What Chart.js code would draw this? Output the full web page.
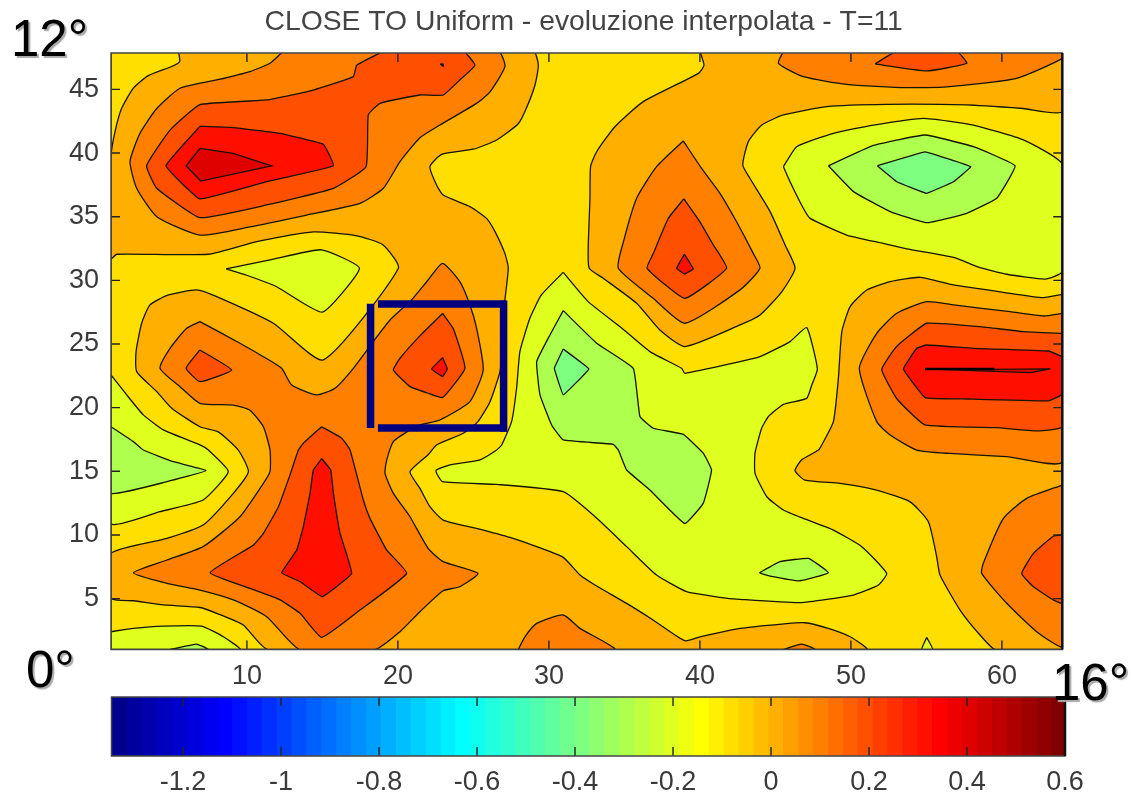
<!DOCTYPE html>
<html>
<head>
<meta charset="utf-8">
<title>CLOSE TO Uniform</title>
<script src="https://cdn.jsdelivr.net/npm/chart.js@4"></script>
<style>
  html, body { margin: 0; padding: 0; background: #fff; overflow: hidden; }
  #page { position: relative; width: 1131px; height: 795px; }
  canvas { position: absolute; left: 0; }
  .corner {
    position: absolute;
    font: 51px/1 "Liberation Sans", sans-serif;
    color: #000;
    text-shadow: 2px 2px 1px #aaa;
    white-space: nowrap;
  }
</style>
</head>
<body>
<div id="page">
  <canvas id="contourChart" width="1131" height="695" style="top:0"></canvas>
  <canvas id="colorbarChart" width="1131" height="110" style="top:685px"></canvas>
  <div class="corner" style="left:11px;top:13px">12°</div>
  <div class="corner" style="left:26px;top:644px">0°</div>
  <div class="corner" style="left:1052px;top:657px">16°</div>
</div>
<script>
const titleText = "CLOSE TO Uniform - evoluzione interpolata - T=11";
const xTicks = [10, 20, 30, 40, 50, 60];
const yTicks = [5, 10, 15, 20, 25, 30, 35, 40, 45];
const barTicks = [-1.2, -1, -0.8, -0.6, -0.4, -0.2, 0, 0.2, 0.4, 0.6];

// colour of each contour band
const bandColors = {
  base: "#ffdf00", zero: "#ffaf00", p1: "#ff7f00", p2: "#ff4f00", p3: "#ff0f00", p4: "#df0000",
  m2: "#dfff1f", m3: "#afff4f", m4: "#7fff7f"
};

// contours, [x, y] in axis units
const bandBase = [[[1, 1], [64, 1], [64, 48], [1, 48]]];

const bandZero = [
  [[5.46,48],[5.55,47.2],[5.02,46.8],[3.47,46.08],[2.48,45.1],[1.7,43.5],[1.27,41.7],[1,39.7],[1,31.7],[1.38,32.05],[7.45,32.05],[10.65,33.04],[14.4,33.8],[17.27,33.5],[19,32.8],[20.03,30.95],[15.06,23.75],[11.75,26.63],[8,28.72],[6.67,29.25],[4.8,28.85],[3.58,28.07],[3.03,26.63],[2.66,24.4],[2.7,22.83],[4.03,21.26],[5.02,19.95],[6.89,18.5],[8.1,18.1],[9.43,16.67],[10.1,14.97],[9.1,13.27],[7.1,10.78],[4.7,9.73],[1,8.55],[1,5.02],[2.5,4.83],[4.47,4.5],[6.9,4.3],[8,3.84],[9.76,2.92],[11.4,1],[51.05,1],[49.95,2],[48.5,2.66],[46.96,3.1],[45.42,3],[42.66,2.66],[40,2],[39,1.69],[36.9,3.32],[35.15,4.62],[33.05,6.07],[32.06,6.85],[30.95,8.24],[29.19,9.08],[27.42,9.81],[25.2,10.52],[23,11.17],[22.12,12.22],[21.46,13.66],[20.8,14.97],[22,16.3],[22.56,17.07],[24.33,17.99],[25.3,18.9],[26.1,20.47],[26.76,22.83],[26.93,24.93],[27.09,28.46],[27.31,30.95],[27.09,32.1],[26.43,33.83],[25.87,34.87],[24.77,35.79],[23,36.7],[22.56,37.49],[22.12,38.93],[22.9,39.9],[25,40.3],[26.54,41.03],[27.97,42.3],[28.5,43.5],[29.08,45.35],[29.3,46.9],[28.97,48]],
  [[40,48],[40.27,46.9],[39.9,46.26],[36.25,44.04],[34.37,42.07],[33.16,40.1],[32.76,38.93],[32.72,36.45],[32.6,32.4],[32.67,30.95],[33.6,30.16],[35.81,28.2],[37.35,26.1],[39,24.8],[42.66,26.5],[43.98,27.28],[45.42,29.1],[46.3,30.95],[45.64,32.78],[44.65,35.4],[43.32,38],[42.84,39.06],[43.21,40.9],[44.1,42.2],[45.53,42.99],[48.4,43.65],[52.37,43.83],[57.67,43.78],[61.4,43.5],[64,43.25],[64,48]],
  [[64,28.9],[62.75,28.64],[60.1,29.06],[56.8,29.64],[54.58,30.24],[52.6,29.9],[51.05,29.24],[49.95,27.94],[49.4,25.97],[49.17,22.3],[48.84,18.9],[48.07,17.07],[47.85,16.67],[46.74,15.9],[46.3,15.05],[46.96,14.3],[49.28,14.05],[51.5,13.58],[53.92,12.6],[55.13,11.04],[55.68,8.3],[55.9,6.85],[57.23,4.1],[58.55,2.14],[59.55,1],[64,1]]
];

const bandP1 = [
  [[12.41,48],[11.53,47.05],[10.2,46.4],[8,45.74],[5.57,45.09],[4.03,43.5],[2.92,41.55],[2.26,39.33],[2.7,37.23],[4.03,35],[6.89,33.56],[10.2,34.2],[13.96,35.13],[17.49,36.05],[19.04,37.23],[20.14,39.33],[21.46,41.2],[22.78,42.2],[25.21,43.9],[26.1,44.8],[27.09,46.8],[26.65,48]],
  [[6.89,26.76],[6.01,26.23],[4.91,24.66],[4.25,23.09],[5.57,21.65],[6.89,20.34],[9.1,20.2],[10.2,19.8],[11.09,18.5],[11.53,16.67],[11.53,14.97],[11.09,14.05],[9.54,11.43],[7.1,9.08],[4.7,8.03],[2.48,7.03],[4.7,6.2],[6.89,5.67],[9.1,4.9],[11.31,3.58],[13.5,1],[18.5,1],[20.14,2.4],[21.46,3.97],[23,5.62],[24.1,5.93],[25.3,6.98],[23,7.9],[22,8.95],[20.8,11.43],[19.7,13.27],[19.15,14.84],[19.26,15.88],[19.7,17.33],[20.47,18],[21.46,18.64],[22.78,19.03],[24.77,20.47],[25.65,22.96],[25.21,26.24],[24.77,28.07],[24.1,29.9],[22.96,31.34],[22,30.03],[20.9,28.46],[19.48,26.89],[18.37,25.19],[17.05,23.09],[15.83,21.52],[14.62,21],[12.97,21.78],[12.3,23.09],[11.09,24],[9.54,25.06]],
  [[38.9,40.95],[37.13,38.93],[35.81,36.45],[34.93,33],[34.6,30.95],[36.91,28.59],[39,26.63],[42.66,29.25],[43.98,30.95],[43.54,32.1],[42.43,34.6],[41.33,36.84],[40.11,38.8]],
  [[64,27.4],[62.75,27.2],[60.54,27.54],[56.8,28.07],[55.02,28.33],[53.04,27.41],[51.71,25.84],[50.56,23.09],[51.71,18.9],[52.6,17.85],[54.36,16.67],[56.57,16.4],[60.32,16.15],[64,15.75]],
  [[64,13.92],[61.64,12.87],[60.1,11.3],[58.77,7.77],[58.66,6.98],[60.32,4.63],[62.3,2.4],[64,1.22]],
  [[45.53,48],[45.2,47.05],[46.85,46],[49.72,45.4],[53.7,45.14],[56.35,45.2],[60.98,45.87],[64,47.44],[64,48]],
  [[27.97,1],[28.41,2],[29.19,3.05],[30.95,3.71],[32.06,2.66],[34.37,1]],
  [[45.53,1],[46.74,1.43],[47.63,1]]
];

const bandP2 = [
  [[19.04,48],[17.27,46.9],[17.05,46],[14.4,44.95],[11.31,44.17],[6.89,43.8],[4.91,41.8],[3.36,39],[4.03,37.23],[6.89,34.93],[11.31,35.92],[15.73,37.23],[17.89,38.93],[18.04,43],[18.82,43.91],[21.46,44.56],[23,44.56],[24.1,45.74],[25.1,46.9],[24.33,48]],
  [[6.89,24.53],[5.97,23.09],[6.89,22.04],[8.99,22.96]],
  [[22.96,27.4],[21.5,25.7],[20.14,23.88],[19.7,22.96],[20.8,21.65],[22,21.13],[22.96,20.79],[24.44,23.09],[23.67,26.2]],
  [[14.95,18.5],[13.74,17.2],[13.41,16.67],[12.85,14.7],[12.08,12.2],[11.09,10.12],[10.43,9.2],[7.56,7.03],[10.2,5.8],[12.2,4.9],[13.52,3.84],[14.95,1.95],[17.49,4.1],[20.58,6.98],[19.26,8.81],[18.15,11.3],[17.71,12.74],[16.83,16.67],[16.28,17.6]],
  [[38.94,36.4],[37.9,34.86],[36.91,32.1],[36.5,30.95],[39,28.59],[41.77,30.95],[40.89,32.78],[40,34.6]],
  [[51.6,47],[53.04,48],[57,48],[57.67,47.05],[55.02,46.45]],
  [[64,25.84],[61.42,25.97],[58.55,26.36],[55.02,26.63],[53.92,25.7],[52.92,24.66],[52.04,23],[53.04,20.7],[54.91,18.64],[59.66,18.43],[62.31,18.17],[64,18.5]],
  [[64,10],[63.4,9.9],[62.09,8.55],[61.31,6.98],[62.09,5.93],[63.4,4.9],[64,4.63]]
];

const bandP3 = [
  [[6.89,42.1],[4.64,39],[6.89,36.4],[11.31,37.75],[15.73,39],[15.06,40.69],[12.19,41.55],[9.1,42]],
  [[22.96,23.93],[22.23,23.04],[22.96,22.44],[23.27,23.04]],
  [[38.97,32.05],[38.46,30.95],[38.97,30.5],[39.56,30.9]],
  [[14.95,16],[14.4,15.1],[14.18,13.27],[13.74,10.65],[13.3,8.81],[12.3,7.03],[13.52,6.33],[15,5.15],[16.94,6.98],[16.17,10.12],[15.73,13.27],[15.55,15.1]],
  [[64,24],[63.08,24.45],[58.11,24.66],[55.02,24.92],[54.36,24.66],[53.48,23.04],[54.91,20.79],[57.67,20.68],[63.08,20.53],[64,21.05]],
  [[22.8,47],[23,47],[23,46.8]]
];

const bandP4 = [
  [[6.89,40.37],[5.97,39],[6.94,37.8],[11.64,39],[9.1,39.98]],
  [[54.91,23.05],[59.6,23],[63.2,23.05],[61.9,22.75],[59.5,22.85]]
];

const bandM2 = [
  [[8.62,30.9],[11.53,31.6],[14.95,32.4],[17.45,30.95],[15,27.5],[11.97,29.5],[9.99,30.4]],
  [[1,22.57],[2.04,21],[3.14,19.43],[4.47,18.25],[6.89,17.07],[7.45,16.67],[8.77,14.97],[7.1,12.74],[4.25,11.83],[1,10.9]],
  [[1,2.4],[2.48,2.66],[4.47,2.84],[7,2.84],[8.44,2],[9.55,1],[1,1]],
  [[30.95,30.63],[29.5,28.85],[28.74,27.02],[28.08,24.4],[27.86,21.52],[27.53,18.9],[26.87,17.07],[26.54,16.67],[25.43,15.9],[23.45,15.5],[22.52,15.05],[22.96,14.18],[26.54,13.97],[30.95,13.4],[32.94,11.56],[35.15,9.08],[37.13,6.85],[39.12,5.54],[41.33,5.1],[42.66,4.94],[46.63,4.68],[50.17,5.28],[51.82,6.07],[52.37,6.98],[50.72,9.08],[48.84,10.38],[46.85,11.3],[45.53,11.96],[44.43,13],[43.65,14.84],[43.65,16.42],[44.09,18.38],[44.54,19.3],[45.53,20.26],[47.07,20.73],[47.41,21.78],[47.78,23.04],[47.07,26.29],[45.97,25.19],[43.98,24],[42.66,23.62],[39,22.7],[38.79,23.09],[36.69,24.4],[34.7,26.37],[32.6,28.33]],
  [[45.53,38.93],[46.41,40.5],[48.84,41.55],[51.49,42.2],[54.8,42.73],[58.11,42.2],[61.42,41.03],[64,39.12],[64,30.68],[62.86,30.1],[60.32,30.48],[58.55,31],[56.8,31.8],[53.7,32.47],[52.15,32.9],[49.72,33.56],[47.3,34.87],[46.85,35.66],[45.97,37.75]],
  [[55.02,1.95],[54.69,1],[55.42,1]]
];

const bandM3 = [
  [[48.51,39],[51.49,40.6],[54.91,41.42],[58.11,40.5],[60.87,39],[59.66,36.45],[57.67,35.27],[55.02,34.53],[52.6,35.4],[50.17,36.97]],
  [[1,18.5],[2.48,17.33],[3.14,16.67],[5.13,15.75],[7.29,15.05],[4.7,14.18],[1,13.27]],
  [[30.95,27.62],[30.07,25.71],[29.19,23.62],[29.41,21],[30.18,18.64],[30.95,17.46],[34.26,17.12],[34.6,16.67],[35.15,15.1],[36.69,13.53],[39,10.9],[40.22,12.48],[40.77,15.1],[40.22,16.42],[38.9,17.9],[36.91,18.38],[36.03,19.3],[35.59,23.09],[33.16,25.06]],
  [[43.94,7.03],[45.31,7.9],[47.19,8.16],[48.51,7.03],[46.63,6.4],[44.65,6.77]],
  [[4.91,1],[6.67,1.43],[7.45,1]]
];

const bandM4 = [
  [[51.75,39],[54.91,40.1],[57.94,38.93],[56.79,37.75],[55.02,36.84],[53.04,37.75]],
  [[30.95,24.6],[30.36,23.09],[30.95,21],[32.65,23.04]]
];

const peakRidge = [[54.91, 23.04], [59.5, 23.03]];

// the hand drawn navy box, four separate strokes
const boxLeft = [[18.19, 28.17], [18.19, 18.4]];
const boxTop = [[18.68, 28.14], [27.2, 28.14]];
const boxRight = [[27, 28.4], [27, 18.1]];
const boxBottom = [[18.68, 18.4], [27.2, 18.4]];

// colorbar
const barColors = [
  "#00008f","#00009f","#0000af","#0000bf","#0000cf","#0000df","#0000ef","#0000ff",
  "#000fff","#001fff","#002fff","#003fff","#004fff","#005fff","#006fff","#007fff",
  "#008fff","#009fff","#00afff","#00bfff","#00cfff","#00dfff","#00efff","#00ffff",
  "#0fffef","#1fffdf","#2fffcf","#3fffbf","#4fffaf","#5fff9f","#6fff8f","#7fff7f",
  "#8fff6f","#9fff5f","#afff4f","#bfff3f","#cfff2f","#dfff1f","#efff0f","#ffff00",
  "#ffef00","#ffdf00","#ffcf00","#ffbf00","#ffaf00","#ff9f00","#ff8f00","#ff7f00",
  "#ff6f00","#ff5f00","#ff4f00","#ff3f00","#ff2f00","#ff1f00","#ff0f00","#ff0000",
  "#ef0000","#df0000","#cf0000","#bf0000","#af0000","#9f0000","#8f0000","#7f0000"
];
const barEdges = [
  -1.346,-1.316,-1.285,-1.255,-1.224,-1.194,-1.164,-1.133,-1.103,-1.072,-1.042,-1.011,-0.981,
  -0.951,-0.920,-0.890,-0.859,-0.829,-0.799,-0.768,-0.738,-0.707,-0.677,-0.647,-0.616,-0.586,
  -0.555,-0.525,-0.495,-0.464,-0.434,-0.403,-0.373,-0.343,-0.312,-0.282,-0.251,-0.221,-0.191,
  -0.160,-0.130,-0.099,-0.069,-0.038,-0.008,0.022,0.053,0.083,0.114,0.144,0.174,0.205,0.235,
  0.266,0.296,0.326,0.357,0.387,0.418,0.448,0.478,0.509,0.539,0.570,0.600
];

const LABEL_FONT = { family: "'Liberation Sans', sans-serif", size: 27 };
const LABEL_COLOR = "#3a3a3a";

// fills each contour along the same curve the line element strokes
const bandFill = {
  id: "bandFill",
  beforeDatasetDraw(chart, args) {
    const ds = chart.data.datasets[args.index];
    if (!ds.bandColor) return;
    const line = chart.getDatasetMeta(args.index).dataset;
    const { ctx, chartArea: a } = chart;
    line.updateControlPoints(a);
    ctx.save();
    ctx.beginPath();
    ctx.rect(a.left, a.top, a.right - a.left, a.bottom - a.top);
    ctx.clip();
    ctx.beginPath();
    line.path(ctx);
    ctx.closePath();
    ctx.fillStyle = ds.bandColor;
    ctx.fill();
    ctx.restore();
  }
};

// matlab style frame with the ticks pointing inward
const matlabFrame = {
  id: "matlabFrame",
  afterDatasetsDraw(chart) {
    const { ctx, chartArea: a, scales } = chart;
    const len = 9;
    ctx.save();
    ctx.strokeStyle = "#222";
    ctx.lineWidth = 1.4;
    ctx.beginPath();
    scales.x.ticks.forEach(t => {
      const px = scales.x.getPixelForValue(t.value);
      ctx.moveTo(px, a.top);
      ctx.lineTo(px, a.top + len);
      ctx.moveTo(px, a.bottom);
      ctx.lineTo(px, a.bottom - len);
    });
    if (!scales.y.options.barAxis) {
      scales.y.ticks.forEach(t => {
        const py = scales.y.getPixelForValue(t.value);
        ctx.moveTo(a.left, py);
        ctx.lineTo(a.left + len, py);
        ctx.moveTo(a.right, py);
        ctx.lineTo(a.right - len, py);
      });
    }
    ctx.stroke();
    ctx.strokeStyle = "#444";
    ctx.lineWidth = 1.5;
    ctx.strokeRect(a.left, a.top, a.right - a.left, a.bottom - a.top);
    ctx.strokeStyle = "#111";
    ctx.lineWidth = 2.5;
    ctx.beginPath();
    ctx.moveTo(a.right, a.top);
    ctx.lineTo(a.right, a.bottom);
    ctx.stroke();
    ctx.restore();
  }
};

// the title sits a little left of the axes centre
const titleNudge = {
  id: "titleNudge",
  afterLayout(chart) {
    chart.titleBlock.left -= 6;
  }
};

function setTicks(values) {
  return scale => { scale.ticks = values.map(v => ({ value: v, label: String(v) })); };
}

function lineDataset(points, extra) {
  return Object.assign({
    data: points.map(([x, y]) => ({ x, y })),
    showLine: true,
    fill: false,
    pointRadius: 0,
    tension: 0
  }, extra);
}

const bands = [
  [bandBase, bandColors.base, 0],
  [bandZero, bandColors.zero, 0.18],
  [bandP1, bandColors.p1, 0.18],
  [bandP2, bandColors.p2, 0.12],
  [bandP3, bandColors.p3, 0.08],
  [bandP4, bandColors.p4, 0],
  [bandM2, bandColors.m2, 0.15],
  [bandM3, bandColors.m3, 0.1],
  [bandM4, bandColors.m4, 0.05]
];

const datasets = [];
bands.forEach(([polys, color, tension]) => {
  polys.forEach(poly => {
    datasets.push(lineDataset([...poly, poly[0]], {
      bandColor: color,
      borderColor: "#141408",
      borderWidth: 1.3,
      tension
    }));
  });
});
datasets.push(lineDataset(peakRidge, { borderColor: "#000", borderWidth: 2.5 }));
[boxLeft, boxTop, boxRight, boxBottom].forEach(stroke => {
  datasets.push(lineDataset(stroke, { borderColor: "#00007f", borderWidth: 7.5 }));
});
// chart.js paints higher order first, keep the list order as paint order
datasets.forEach((ds, i) => { ds.order = datasets.length - i; });

new Chart(document.getElementById("contourChart"), {
  type: "scatter",
  data: { datasets },
  plugins: [bandFill, matlabFrame, titleNudge],
  options: {
    responsive: false,
    animation: false,
    layout: { padding: { left: 0, right: 68.7, top: 0, bottom: 0 } },
    plugins: {
      legend: { display: false },
      tooltip: { enabled: false },
      title: {
        display: true,
        text: titleText,
        fullSize: false,
        color: "#444",
        font: { family: "'Liberation Sans', sans-serif", size: 28.3, weight: "normal", lineHeight: 1 },
        padding: { top: 8, bottom: 16.7 }
      }
    },
    scales: {
      x: {
        type: "linear",
        min: 1,
        max: 64,
        grid: { display: false, drawTicks: false },
        border: { display: false },
        afterBuildTicks: setTicks(xTicks),
        afterFit: axis => { axis.height = 45.5; },
        ticks: { autoSkip: false, maxRotation: 0, padding: 10.5, font: LABEL_FONT, color: LABEL_COLOR, callback: v => String(v) }
      },
      y: {
        type: "linear",
        min: 1,
        max: 47.86,
        grid: { display: false, drawTicks: false },
        border: { display: false },
        afterBuildTicks: setTicks(yTicks),
        afterFit: axis => { axis.width = 111; },
        ticks: { autoSkip: false, padding: 12, font: LABEL_FONT, color: LABEL_COLOR, callback: v => String(v) }
      }
    }
  }
});

new Chart(document.getElementById("colorbarChart"), {
  type: "bar",
  data: {
    labels: ["colorbar"],
    datasets: barColors.map((color, i) => ({
      data: [[barEdges[i], barEdges[i + 1] + 0.002]],
      backgroundColor: color,
      borderWidth: 0,
      grouped: false,
      barPercentage: 1,
      categoryPercentage: 1
    }))
  },
  plugins: [matlabFrame],
  options: {
    indexAxis: "y",
    responsive: false,
    animation: false,
    layout: { padding: { left: 111.5, right: 66, top: 12, bottom: 0 } },
    plugins: { legend: { display: false }, tooltip: { enabled: false } },
    scales: {
      x: {
        type: "linear",
        min: -1.346,
        max: 0.6,
        grid: { display: false, drawTicks: false },
        border: { display: false },
        afterBuildTicks: setTicks(barTicks),
        afterFit: axis => { axis.height = 39; },
        ticks: { autoSkip: false, maxRotation: 0, padding: 10, font: LABEL_FONT, color: LABEL_COLOR, callback: v => String(v) }
      },
      y: { display: false, barAxis: true }
    }
  }
});
</script>
</body>
</html>
